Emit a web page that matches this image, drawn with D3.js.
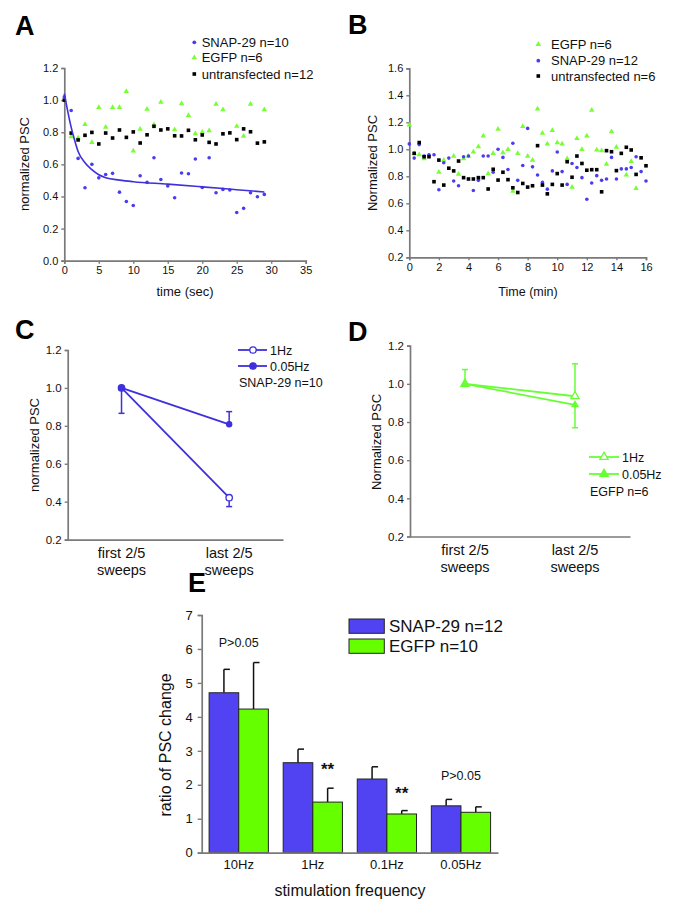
<!DOCTYPE html>
<html><head><meta charset="utf-8">
<script src="https://cdn.jsdelivr.net/npm/d3@7"></script>
<style>body{margin:0;background:#fff}text{font-family:"Liberation Sans",Arial,sans-serif}</style>
</head><body><svg id="c" width="675" height="906"></svg>
<script>
// ---------- Panel A data ----------
const aTime = [0,1,2,3,4,5,6,7,8,9,10,11,12,13,14,15,16,17,18,19,20,21,22,23,24,25,26,27,28,29];
const aSnap = [1.02,0.935,0.637,0.454,0.60,0.516,0.537,0.544,0.427,0.369,0.344,0.529,0.488,0.641,0.506,0.465,0.392,0.546,0.541,0.633,0.456,0.641,0.423,0.444,0.44,0.30,0.326,0.423,0.398,0.413];
const aEgfp = [null,0.772,0.765,0.848,0.737,0.955,0.832,0.954,0.955,1.054,0.683,0.819,0.943,0.847,0.988,null,0.816,0.978,0.905,0.791,0.801,0.81,0.975,0.94,null,0.837,0.775,0.975,null,0.94];
const aUntr = [1.0,0.795,0.752,0.781,0.799,0.727,0.795,0.764,0.814,0.768,0.802,0.733,0.784,0.837,0.814,0.821,0.778,0.777,0.812,0.753,0.783,0.737,0.727,0.79,0.796,0.754,0.821,0.803,0.732,0.74];
const aFitT = [0,0.5,1,1.5,2,3,4,5,6,8,10,15,20,25,29];
const aFitV = [1.04,0.93,0.83,0.75,0.68,0.61,0.567,0.535,0.517,0.502,0.492,0.477,0.46,0.442,0.428];
const aXTicks = [0,5,10,15,20,25,30,35];
const aYTicks = [0,0.2,0.4,0.6,0.8,1.0,1.2];
const aLegend = ["SNAP-29 n=10","EGFP n=6","untransfected n=12"];

// ---------- Panel B data ----------
const bTime = [0,0.33,0.67,1,1.33,1.67,2,2.33,2.67,3,3.33,3.67,4,4.33,4.67,5,5.33,5.67,6,6.33,6.67,7,7.33,7.67,8,8.33,8.67,9,9.33,9.67,10,10.33,10.67,11,11.33,11.67,12,12.33,12.67,13,13.33,13.67,14,14.33,14.67,15,15.33,15.67,16];
const bEgfp = [1.18,0.97,0.96,0.93,null,null,0.83,0.92,null,0.95,0.815,0.93,0.95,0.98,1.02,1.10,0.82,0.97,1.15,0.975,1.0,0.69,0.97,1.17,0.95,0.92,1.30,1.12,1.04,1.14,1.05,1.04,0.93,0.72,1.08,1.0,1.10,1.29,0.995,0.99,0.89,1.13,1.015,null,0.81,0.91,0.71,null,null];
const bSnap = [1.04,0.935,1.035,0.95,0.96,0.96,0.70,0.90,0.935,0.765,0.73,0.945,0.95,0.695,0.77,0.95,0.95,0.83,1.0,0.94,0.85,1.045,0.77,0.88,1.155,0.87,0.81,0.755,0.705,0.84,0.98,0.835,0.74,0.895,0.865,0.79,0.63,0.75,0.805,0.77,0.78,0.94,0.78,0.855,0.855,0.865,0.945,0.835,0.765];
const bUntr = [null,0.97,1.05,0.945,0.945,0.76,0.92,0.735,0.86,0.84,0.913,0.79,0.78,0.78,0.79,0.79,0.706,0.852,0.772,0.83,0.775,0.715,0.68,0.747,0.72,0.73,1.027,0.735,0.67,0.74,0.82,0.735,0.908,0.793,0.95,0.895,0.845,0.849,0.849,0.685,0.99,0.982,0.842,0.97,1.015,0.995,0.814,0.937,0.878];
const bXTicks = [0,2,4,6,8,10,12,14,16];
const bYTicks = [0.2,0.4,0.6,0.8,1.0,1.2,1.4,1.6];
const bLegend = ["EGFP n=6","SNAP-29 n=12","untransfected n=6"];

// ---------- Panels C & D data ----------
const sweepCats = ["first","last"];
const sweepLabels = [["first 2/5","sweeps"],["last 2/5","sweeps"]];
const cdYTicks = [0.2,0.4,0.6,0.8,1.0,1.2];
const c1Hz = [1.0,0.421];
const c1HzErrDown = [0.134,0.047];
const c005 = [1.0,0.808];
const c005ErrUp = [0,0.067];
const d1Hz = [1.0,0.935];
const d1HzErrUp = [0.075,0.17];
const d005 = [1.0,0.89];
const d005ErrDown = [0,0.12];
const cLegend = ["1Hz","0.05Hz","SNAP-29 n=10"];
const dLegend = ["1Hz","0.05Hz","EGFP n=6"];

// ---------- Panel E data ----------
const eFreqs = ["10Hz","1Hz","0.1Hz","0.05Hz"];
const eSnap = [4.71,2.65,2.17,1.38];
const eSnapErr = [0.69,0.40,0.36,0.19];
const eEgfp = [4.23,1.49,1.14,1.19];
const eEgfpErr = [1.37,0.41,0.10,0.16];
const eYTicks = [0,1,2,3,4,5,6,7];
const eLegend = ["SNAP-29 n=12","EGFP n=10"];
const eNotes = [{f:"10Hz",g:"mid",text:"P>0.05",v:6.05},{f:"1Hz",g:"egfp",text:"**",v:2.3},{f:"0.1Hz",g:"egfp",text:"**",v:1.58},{f:"0.05Hz",g:"mid",text:"P>0.05",v:2.15}];

// ---------- styles ----------
const BLUE = "#4a3cf0", BLUE_LINE = "#3f30dc", BLUE_BAR = "#5243f2";
const GREEN = "#77ff33", GREEN_LINE = "#66ff33", GREEN_BAR = "#66ff00";
const AXIS = "#7a7a7a", TXT = "#111";

const svg = d3.select("#c");
svg.append("rect").attr("width",675).attr("height",906).attr("fill","#fff");

function styleAxis(g, fs){
  g.select(".domain").attr("stroke",AXIS).attr("stroke-width",1.7);
  g.selectAll(".tick line").attr("stroke",AXIS).attr("stroke-width",1.4);
  g.selectAll(".tick text").attr("fill",TXT).attr("font-size",fs).attr("font-family","Liberation Sans, Arial, sans-serif");
}
function letter(t,x,y){
  svg.append("text").attr("x",x).attr("y",y).attr("font-size",27).attr("font-weight","bold").attr("fill","#000").text(t);
}
function ylabel(t,x,y,fs){
  svg.append("text").attr("transform",`translate(${x},${y}) rotate(-90)`).attr("text-anchor","middle")
    .attr("font-size",fs).attr("fill",TXT).text(t);
}
function xlabel(t,x,y,fs){
  svg.append("text").attr("x",x).attr("y",y).attr("text-anchor","middle").attr("font-size",fs).attr("fill",TXT).text(t);
}
const sym = (type,size)=>d3.symbol().type(type).size(size)();

// ================= PANEL A =================
{
  const x = d3.scaleLinear().domain([0,35]).range([64.3,305.7]);
  const y = d3.scaleLinear().domain([0,1.2]).range([260.7,68]);
  const gx = svg.append("g").attr("transform",`translate(0,${y(0)})`)
    .call(d3.axisBottom(x).tickValues(aXTicks).tickSizeOuter(0).tickSize(3).tickPadding(3));
  styleAxis(gx,11);
  const gy = svg.append("g").attr("transform",`translate(${x(0)},0)`)
    .call(d3.axisLeft(y).tickValues(aYTicks).tickFormat(d3.format(".1f")).tickSizeOuter(0).tickSize(3).tickPadding(3));
  styleAxis(gy,11);
  letter("A",15,35);
  ylabel("normalized PSC",29,164,13);
  xlabel("time (sec)",185,296,13);
  const g = svg.append("g");
  g.selectAll(".ae").data(aTime.map((t,i)=>[t,aEgfp[i]]).filter(d=>d[1]!==null)).join("path")
    .attr("transform",d=>`translate(${x(d[0])},${y(d[1])})`).attr("d",sym(d3.symbolTriangle,13)).attr("fill",GREEN);
  g.selectAll(".au").data(aTime.map((t,i)=>[t,aUntr[i]])).join("path")
    .attr("transform",d=>`translate(${x(d[0])},${y(d[1])})`).attr("d",sym(d3.symbolSquare,13)).attr("fill","#000");
  g.selectAll(".as").data(aTime.map((t,i)=>[t,aSnap[i]])).join("circle")
    .attr("cx",d=>x(d[0])).attr("cy",d=>y(d[1])).attr("r",1.8).attr("fill",BLUE);
  g.append("path").datum(aFitT.map((t,i)=>[t,aFitV[i]]))
    .attr("d",d3.line().x(d=>x(d[0])).y(d=>y(d[1])).curve(d3.curveMonotoneX))
    .attr("fill","none").attr("stroke",BLUE_LINE).attr("stroke-width",1.6);
  // legend
  const ly = [42.3,57.7,74];
  svg.append("circle").attr("cx",194.3).attr("cy",ly[0]).attr("r",1.9).attr("fill",BLUE);
  svg.append("path").attr("transform",`translate(194.3,${ly[1]})`).attr("d",sym(d3.symbolTriangle,14)).attr("fill",GREEN);
  svg.append("path").attr("transform",`translate(194.3,${ly[2]})`).attr("d",sym(d3.symbolSquare,13)).attr("fill","#000");
  aLegend.forEach((t,i)=>svg.append("text").attr("x",201.7).attr("y",ly[i]).attr("dy","0.36em").attr("font-size",13).attr("fill",TXT).text(t));
}

// ================= PANEL B =================
{
  const x = d3.scaleLinear().domain([0,16]).range([409.3,646]);
  const y = d3.scaleLinear().domain([0.2,1.6]).range([257.3,68.3]);
  const gx = svg.append("g").attr("transform",`translate(0,${y(0.2)})`)
    .call(d3.axisBottom(x).tickValues(bXTicks).tickSizeOuter(0).tickSize(3).tickPadding(3));
  styleAxis(gx,11);
  const gy = svg.append("g").attr("transform",`translate(${x(0)},0)`)
    .call(d3.axisLeft(y).tickValues(bYTicks).tickFormat(d3.format(".1f")).tickSizeOuter(0).tickSize(3).tickPadding(3));
  styleAxis(gy,11);
  letter("B",348,34);
  ylabel("Normalized PSC",377,163,13);
  xlabel("Time (min)",528,296,12.5);
  const g = svg.append("g");
  g.selectAll(".be").data(bTime.map((t,i)=>[t,bEgfp[i]]).filter(d=>d[1]!==null)).join("path")
    .attr("transform",d=>`translate(${x(d[0])},${y(d[1])})`).attr("d",sym(d3.symbolTriangle,13)).attr("fill",GREEN);
  g.selectAll(".bs").data(bTime.map((t,i)=>[t,bSnap[i]]).filter(d=>d[1]!==null)).join("circle")
    .attr("cx",d=>x(d[0])).attr("cy",d=>y(d[1])).attr("r",1.8).attr("fill",BLUE);
  g.selectAll(".bu").data(bTime.map((t,i)=>[t,bUntr[i]]).filter(d=>d[1]!==null)).join("path")
    .attr("transform",d=>`translate(${x(d[0])},${y(d[1])})`).attr("d",sym(d3.symbolSquare,13)).attr("fill","#000");
  const ly = [44.3,60.7,76];
  svg.append("path").attr("transform",`translate(538.3,${ly[0]})`).attr("d",sym(d3.symbolTriangle,14)).attr("fill",GREEN);
  svg.append("circle").attr("cx",538.3).attr("cy",ly[1]).attr("r",1.9).attr("fill",BLUE);
  svg.append("path").attr("transform",`translate(538.3,${ly[2]})`).attr("d",sym(d3.symbolSquare,13)).attr("fill","#000");
  bLegend.forEach((t,i)=>svg.append("text").attr("x",551).attr("y",ly[i]).attr("dy","0.36em").attr("font-size",13).attr("fill",TXT).text(t));
}

// ============ helper for C/D ============
function sweepPanel(opts){
  const {x0,x1,yTop,yBot} = opts;
  const x = d3.scalePoint().domain(sweepCats).range([x0,x1]).padding(0.5);
  const y = d3.scaleLinear().domain([0.2,1.2]).range([yBot,yTop]);
  const gx = svg.append("g").attr("transform",`translate(0,${yBot})`)
    .call(d3.axisBottom(x).tickSize(0).tickSizeOuter(0).tickFormat(""));
  styleAxis(gx,12);
  sweepCats.forEach((c,i)=>{
    sweepLabels[i].forEach((l,j)=>svg.append("text").attr("x",x(c)).attr("y",yBot+18+j*17).attr("text-anchor","middle")
      .attr("font-size",14.5).attr("fill",TXT).text(l));
  });
  const gy = svg.append("g").attr("transform",`translate(${x0},0)`)
    .call(d3.axisLeft(y).tickValues(cdYTicks).tickFormat(d3.format(".1f")).tickSizeOuter(0).tickSize(3).tickPadding(3));
  styleAxis(gy,11.5);
  return {x,y};
}
function errBar(x,y,cx,v,e,dir,color){
  if(!e) return;
  const v2 = dir==="up"? v+e : v-e;
  svg.append("line").attr("x1",cx).attr("x2",cx).attr("y1",y(v)).attr("y2",y(v2)).attr("stroke",color).attr("stroke-width",1.5);
  svg.append("line").attr("x1",cx-3).attr("x2",cx+3).attr("y1",y(v2)).attr("y2",y(v2)).attr("stroke",color).attr("stroke-width",1.5);
}

// ================= PANEL C =================
{
  const {x,y} = sweepPanel({x0:67.7,x1:283,yTop:350,yBot:539.6});
  letter("C",15,339);
  ylabel("normalized PSC",39,445,13);
  const ln = d3.line().x((d,i)=>x(sweepCats[i])).y(d=>y(d));
  svg.append("path").attr("d",ln(c1Hz)).attr("fill","none").attr("stroke",BLUE_LINE).attr("stroke-width",1.8);
  svg.append("path").attr("d",ln(c005)).attr("fill","none").attr("stroke",BLUE_LINE).attr("stroke-width",1.8);
  sweepCats.forEach((c,i)=>{
    errBar(x,y,x(c),c1Hz[i],c1HzErrDown[i],"down",BLUE_LINE);
    errBar(x,y,x(c),c005[i],c005ErrUp[i],"up",BLUE_LINE);
  });
  sweepCats.forEach((c,i)=>{
    svg.append("circle").attr("cx",x(c)).attr("cy",y(c1Hz[i])).attr("r",3.2).attr("fill","#fff").attr("stroke",BLUE_LINE).attr("stroke-width",1.3);
  });
  sweepCats.forEach((c,i)=>{
    svg.append("circle").attr("cx",x(c)).attr("cy",y(c005[i])).attr("r",3.2).attr("fill",BLUE_LINE);
  });
  const ly=[350,366];
  ly.forEach((yy,i)=>{
    svg.append("line").attr("x1",238).attr("x2",267).attr("y1",yy).attr("y2",yy).attr("stroke",BLUE_LINE).attr("stroke-width",1.8);
    svg.append("circle").attr("cx",253).attr("cy",yy).attr("r",3.2).attr("fill",i===0?"#fff":BLUE_LINE).attr("stroke",BLUE_LINE).attr("stroke-width",1.3);
  });
  svg.append("text").attr("x",270).attr("y",350).attr("dy","0.36em").attr("font-size",12.5).attr("fill",TXT).text(cLegend[0]);
  svg.append("text").attr("x",270).attr("y",366).attr("dy","0.36em").attr("font-size",12.5).attr("fill",TXT).text(cLegend[1]);
  svg.append("text").attr("x",239).attr("y",382).attr("dy","0.36em").attr("font-size",12.5).attr("fill",TXT).text(cLegend[2]);
}

// ================= PANEL D =================
{
  const {x,y} = sweepPanel({x0:410,x1:630,yTop:345.7,yBot:536.5});
  letter("D",348,341);
  ylabel("Normalized PSC",381,442,13);
  const ln = d3.line().x((d,i)=>x(sweepCats[i])).y(d=>y(d));
  svg.append("path").attr("d",ln(d1Hz)).attr("fill","none").attr("stroke",GREEN_LINE).attr("stroke-width",1.8);
  svg.append("path").attr("d",ln(d005)).attr("fill","none").attr("stroke",GREEN_LINE).attr("stroke-width",1.8);
  sweepCats.forEach((c,i)=>{
    errBar(x,y,x(c),d1Hz[i],d1HzErrUp[i],"up",GREEN_LINE);
    errBar(x,y,x(c),d005[i],d005ErrDown[i],"down",GREEN_LINE);
  });
  sweepCats.forEach((c,i)=>{
    svg.append("path").attr("transform",`translate(${x(c)},${y(d1Hz[i])})`).attr("d",sym(d3.symbolTriangle,30))
      .attr("fill","#fff").attr("stroke",GREEN_LINE).attr("stroke-width",1.3);
  });
  sweepCats.forEach((c,i)=>{
    svg.append("path").attr("transform",`translate(${x(c)},${y(d005[i])})`).attr("d",sym(d3.symbolTriangle,30)).attr("fill",GREEN_LINE);
  });
  const ly=[457,474];
  ly.forEach((yy,i)=>{
    svg.append("line").attr("x1",589).attr("x2",619).attr("y1",yy).attr("y2",yy).attr("stroke",GREEN_LINE).attr("stroke-width",1.8);
    svg.append("path").attr("transform",`translate(604,${yy})`).attr("d",sym(d3.symbolTriangle,30))
      .attr("fill",i===0?"#fff":GREEN_LINE).attr("stroke",GREEN_LINE).attr("stroke-width",1.3);
  });
  svg.append("text").attr("x",622).attr("y",457).attr("dy","0.36em").attr("font-size",12.5).attr("fill",TXT).text(dLegend[0]);
  svg.append("text").attr("x",622).attr("y",474).attr("dy","0.36em").attr("font-size",12.5).attr("fill",TXT).text(dLegend[1]);
  svg.append("text").attr("x",590).attr("y",491).attr("dy","0.36em").attr("font-size",12.5).attr("fill",TXT).text(dLegend[2]);
}

// ================= PANEL E =================
{
  const x = d3.scaleBand().domain(eFreqs).range([201.7,498]).paddingInner(0.2).paddingOuter(0.1);
  const xs = d3.scaleBand().domain(["snap","egfp"]).range([0,x.bandwidth()]);
  const y = d3.scaleLinear().domain([0,7]).range([852.7,615]);
  const gy = svg.append("g").attr("transform",`translate(201.7,0)`)
    .call(d3.axisLeft(y).tickValues(eYTicks).tickFormat(d3.format("d")).tickSizeOuter(0).tickSize(4).tickPadding(5));
  styleAxis(gy,13);
  letter("E",188,592);
  ylabel("ratio of PSC change",171,745,16);
  xlabel("stimulation frequency",350,896,16);
  const series = [["snap",eSnap,eSnapErr,BLUE_BAR],["egfp",eEgfp,eEgfpErr,GREEN_BAR]];
  series.forEach(([k,vals,errs,col])=>{
    eFreqs.forEach((f,i)=>{
      const bx = x(f)+xs(k), cx = bx+xs.bandwidth()/2;
      svg.append("line").attr("x1",cx).attr("x2",cx).attr("y1",y(vals[i])).attr("y2",y(vals[i]+errs[i])).attr("stroke","#111").attr("stroke-width",1.5);
      svg.append("line").attr("x1",cx).attr("x2",cx+6).attr("y1",y(vals[i]+errs[i])).attr("y2",y(vals[i]+errs[i])).attr("stroke","#111").attr("stroke-width",1.5);
      svg.append("rect").attr("x",bx).attr("y",y(vals[i])).attr("width",xs.bandwidth()).attr("height",y(0)-y(vals[i]))
        .attr("fill",col).attr("stroke","#222").attr("stroke-width",1);
    });
  });
  const gx = svg.append("g").attr("transform",`translate(0,${y(0)})`)
    .call(d3.axisBottom(x).tickSize(0).tickSizeOuter(0).tickPadding(7));
  styleAxis(gx,13);
  eNotes.forEach(n=>{
    const cx = n.g==="mid" ? x(n.f)+x.bandwidth()/2 : x(n.f)+xs(n.g)+xs.bandwidth()/2;
    svg.append("text").attr("x",cx).attr("y",y(n.v)).attr("text-anchor","middle")
      .attr("font-size",n.text==="**"?17:12.5).attr("font-weight",n.text==="**"?"bold":"normal").attr("fill",TXT).text(n.text);
  });
  const lys=[626,646];
  [BLUE_BAR,GREEN_BAR].forEach((c,i)=>{
    svg.append("rect").attr("x",349).attr("y",lys[i]-7).attr("width",35.3).attr("height",14.3).attr("fill",c).attr("stroke","#222").attr("stroke-width",1);
    svg.append("text").attr("x",389).attr("y",lys[i]).attr("dy","0.36em").attr("font-size",17).attr("fill",TXT).text(eLegend[i]);
  });
}
</script></body></html>
